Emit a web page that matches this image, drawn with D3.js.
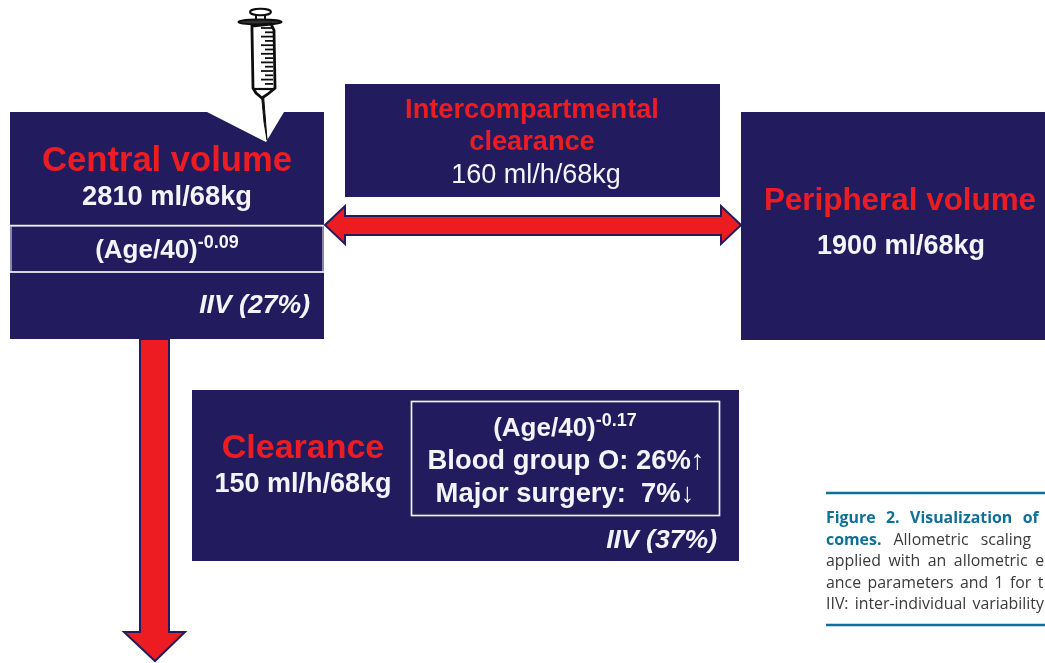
<!DOCTYPE html>
<html>
<head>
<meta charset="utf-8">
<script src="https://cdn.jsdelivr.net/npm/d3@7"></script>
<style>
html, body { margin: 0; padding: 0; background: #fff; overflow: hidden; }
svg { display: block; }
text { font-family: "Liberation Sans", Arial, sans-serif; white-space: pre; }
.red { fill: #ed1c24; font-weight: bold; }
.wht { fill: #f4f3f8; font-weight: bold; }
.thin { fill: #f4f3f8; font-weight: normal; }
.caption { font-family: "Open Sans", sans-serif; font-size: 15.9px; fill: #3a3a3a; }
</style>
</head>
<body>
<script>
// values
var paramNames = ["Central volume", "Intercompartmental", "Peripheral volume", "Clearance"];
var paramValues = ["2810 ml/68kg", "160 ml/h/68kg", "1900 ml/68kg", "150 ml/h/68kg"];
var ageExponents = ["-0.09", "-0.17"];
var iivLabels = ["IIV (27%)", "IIV (37%)"];
var covariates = ["Blood group O: 26%\u2191", "Major surgery:  7%\u2193"];
var captionLines = [
    ["Figure 2. Visualization of", ""],
    ["comes.", " Allometric scaling"],
    ["", "applied with an allometric e"],
    ["", "ance parameters and 1 for t"],
    ["", "IIV: inter-individual variability"]
];

var width = 1045;
var height = 663;
var navy = "#201d5f";
var red = "#ed1c24";
var blue = "#0f6f96";
var captionGaps = [6.3, 8, 3.4, 2.2, 2]; // caption is justified in the source

var svg = d3.select("body").append("svg")
    .attr("width", width)
    .attr("height", height);

var soft = svg.append("defs").append("filter").attr("id", "soft");
soft.append("feGaussianBlur").attr("stdDeviation", 0.45);

var line = d3.line();
var root = svg.append("g").attr("filter", "url(#soft)");

function box(x0, y0, x1, y1) {
    root.append("rect")
        .attr("x", x0).attr("y", y0)
        .attr("width", x1 - x0).attr("height", y1 - y0)
        .attr("fill", navy);
}

function frame(x0, y0, x1, y1, w) {
    root.append("rect")
        .attr("x", x0).attr("y", y0)
        .attr("width", x1 - x0).attr("height", y1 - y0)
        .attr("fill", "none")
        .attr("stroke", "#f0eff7")
        .attr("stroke-width", w);
}

function label(str, x, y, size, cls, anchor) {
    return root.append("text")
        .attr("x", x).attr("y", y)
        .attr("class", cls)
        .attr("font-size", size)
        .attr("text-anchor", anchor || "middle")
        .text(str);
}

function ageLabel(exp, x, y) {
    var t = label("(Age/40)", x, y, 26, "wht");
    t.append("tspan").attr("dy", -10).attr("font-size", 18).text(exp);
}

// central volume box with the notch for the needle
root.append("path")
    .attr("d", line([[10, 112], [207, 112], [266, 142], [284, 112], [324, 112], [324, 339], [10, 339]]) + "Z")
    .attr("fill", navy);
root.append("line").attr("x1", 10).attr("x2", 324).attr("y1", 225.5).attr("y2", 225.5)
    .attr("stroke", "#f0eff7").attr("stroke-width", 1.6);
root.append("line").attr("x1", 10).attr("x2", 324).attr("y1", 272).attr("y2", 272)
    .attr("stroke", "#f0eff7").attr("stroke-width", 1.6);
frame(11, 226, 323, 272, 1);

box(345, 84, 720, 197);
box(741, 112, 1045, 340);
box(192, 390, 739, 561);
frame(411.5, 401.5, 719.5, 515.5, 1.7);

// double arrow between compartments
root.append("path")
    .attr("d", line([[325, 225], [345, 206], [345, 216], [721, 216], [721, 206], [741, 225],
        [721, 244], [721, 235], [345, 235], [345, 244]]) + "Z")
    .attr("fill", red).attr("stroke", navy).attr("stroke-width", 2);

// elimination arrow
root.append("path")
    .attr("d", line([[140, 339], [169, 339], [169, 632], [185, 632], [155, 661], [124, 632], [140, 632]]) + "Z")
    .attr("fill", red).attr("stroke", navy).attr("stroke-width", 2);

// syringe
var syr = root.append("g").attr("fill", "#fff").attr("stroke", "#111").attr("stroke-width", 2);
syr.append("path").attr("d", line([[261.5, 95], [264, 122], [267, 140], [263.5, 95]])).attr("fill", "#111").attr("stroke-width", 1);
syr.append("path").attr("d", line([[256, 14], [256, 21]]));
syr.append("path").attr("d", line([[265, 14], [265, 21]]));
syr.append("ellipse").attr("cx", 260.5).attr("cy", 12).attr("rx", 10.5).attr("ry", 3.2);
syr.append("ellipse").attr("cx", 260).attr("cy", 22).attr("rx", 21.5).attr("ry", 2.4).attr("fill", "#333");
syr.append("path")
    .attr("d", line([[252, 26], [271, 24], [274, 30], [275, 88], [268, 94], [262, 98], [256, 93], [253, 88], [252, 30]]) + "Z")
    .attr("stroke-width", 2.8);
syr.append("path").attr("d", line([[253, 89], [275, 89]])).attr("stroke-width", 2.2);
d3.range(14).forEach(function (i) {
    var yy = 28 + i * 4.3;
    syr.append("path")
        .attr("d", line([[i % 2 ? 265 : 261, yy], [273, yy]]))
        .attr("stroke-width", 1.8);
});

// texts
label(paramNames[0], 167, 171, 34.6, "red");
label(paramValues[0], 167, 205, 27.3, "wht");
ageLabel(ageExponents[0], 167, 258);
label(iivLabels[0], 310, 313, 26.6, "wht", "end").attr("font-style", "italic");

label(paramNames[1], 532, 118, 27.2, "red");
label("clearance", 532, 150, 27.2, "red");
label(paramValues[1], 536, 183, 27, "thin");

label(paramNames[2], 900, 210, 31.4, "red");
label(paramValues[2], 901, 254, 27, "wht");

label(paramNames[3], 303, 458, 34, "red");
label(paramValues[3], 303, 492, 27, "wht");

ageLabel(ageExponents[1], 565, 436);
label(covariates[0], 566, 469, 27.4, "wht");
label(covariates[1], 565, 502, 27.4, "wht");
label(iivLabels[1], 717, 548, 26.6, "wht", "end").attr("font-style", "italic");

// caption, cut by the page edge
[493, 625].forEach(function (y) {
    root.append("line")
        .attr("x1", 826).attr("x2", width)
        .attr("y1", y).attr("y2", y)
        .attr("stroke", blue).attr("stroke-width", 2.6);
});
captionLines.forEach(function (row, i) {
    var t = root.append("text")
        .attr("class", "caption")
        .attr("x", 826)
        .attr("y", 523 + i * 21.6)
        .attr("word-spacing", captionGaps[i]);
    if (row[0]) t.append("tspan").attr("fill", blue).attr("font-weight", "bold").text(row[0]);
    if (row[1]) t.append("tspan").text(row[1]);
});
</script>
</body>
</html>
